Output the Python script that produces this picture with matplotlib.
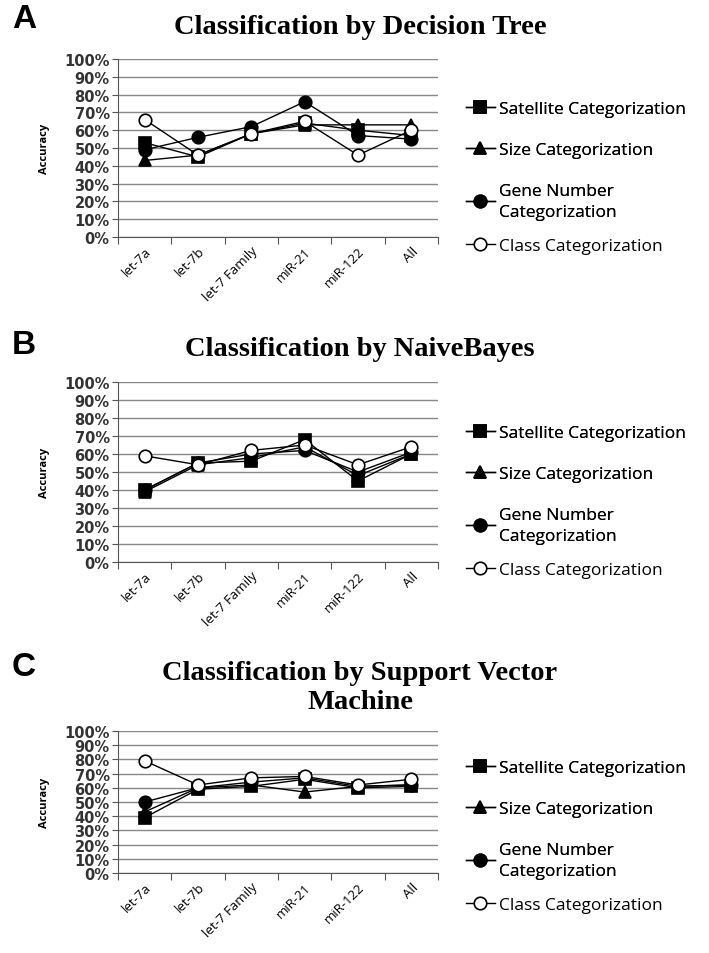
import matplotlib.pyplot as plt
from matplotlib.ticker import PercentFormatter

# categorias e valores (em %)
categorias = ['let-7a', 'let-7b', 'let-7 Family', 'miR-21', 'miR-122', 'All']
series = ['Satellite Categorization', 'Size Categorization',
          'Gene Number\nCategorization', 'Class Categorization']

# A - Decision Tree
dt_satelite = [53, 45, 58, 64, 60, 57]
dt_tamanho = [43, 46, 58, 63, 63, 63]
dt_genes = [49, 56, 62, 76, 57, 55]
dt_classe = [66, 46, 58, 65, 46, 60]

# B - NaiveBayes
nb_satelite = [40, 55, 56, 68, 45, 60]
nb_tamanho = [39, 54, 58, 64, 48, 60]
nb_genes = [40, 55, 60, 62, 50, 61]
nb_classe = [59, 54, 62, 65, 54, 64]

# C - Support Vector Machine
svm_satelite = [39, 59, 61, 66, 60, 61]
svm_tamanho = [43, 60, 62, 57, 61, 62]
svm_genes = [50, 60, 64, 67, 61, 62]
svm_classe = [79, 62, 67, 68, 62, 66]

W, H = 709, 954
fig = plt.figure(figsize=(W / 100, H / 100), dpi=100)

marcadores = [('s', 'black'), ('^', 'black'), ('o', 'black'), ('o', 'white')]

# letra, titulo, dados, topo/base do eixo (px), y da letra, y do titulo, y da legenda
paineis = [
    ('A', 'Classification by Decision Tree', [dt_satelite, dt_tamanho, dt_genes, dt_classe],
     60, 238, 20, 27, 104),
    ('B', 'Classification by NaiveBayes', [nb_satelite, nb_tamanho, nb_genes, nb_classe],
     383, 563, 346, 350, 428),
    ('C', 'Classification by Support Vector\nMachine', [svm_satelite, svm_tamanho, svm_genes, svm_classe],
     732, 874, 667, 688, 763),
]

fonte_leg = {'family': 'Open Sans', 'size': 12.5}

x = list(range(len(categorias)))
for letra, titulo, dados, y_top, y_bot, y_letra, y_titulo, y_leg in paineis:
    ax = fig.add_axes([118 / W, (H - y_bot) / H, 320 / W, (y_bot - y_top) / H])
    handles = []
    for valores, (mk, cor), nome in zip(dados, marcadores, series):
        h, = ax.plot(x, valores, color='black', lw=1, marker=mk, markersize=9,
                     markerfacecolor=cor, markeredgecolor='black', markeredgewidth=1.2,
                     label=nome)
        handles.append(h)
    ax.set_xlim(-0.5, len(categorias) - 0.5)
    ax.set_ylim(0, 100)
    ax.set_yticks(range(0, 101, 10))
    ax.yaxis.set_major_formatter(PercentFormatter(decimals=0))
    ax.grid(axis='y', color='#888888', lw=1)
    ax.set_axisbelow(True)
    for lado in ['top', 'right']:
        ax.spines[lado].set_visible(False)
    ax.spines['left'].set_color('#555555')
    ax.spines['bottom'].set_color('#555555')
    ax.set_xticks([i + 0.5 for i in range(-1, len(categorias))], minor=False)
    ax.set_xticklabels([])
    ax.set_xticks(x, minor=True)
    ax.set_xticklabels(categorias, minor=True, rotation=45, ha='right',
                       rotation_mode='anchor', fontsize=9.5, family='Open Sans')
    ax.tick_params(axis='x', which='minor', length=0, pad=5)
    ax.tick_params(axis='x', which='major', length=5, direction='out', color='#555555')
    ax.tick_params(axis='y', length=4, direction='out', color='#555555', labelsize=10.5, pad=2)
    for t in ax.get_yticklabels():
        t.set_fontweight('bold')
        t.set_color('#333333')
    ax.set_ylabel('Accuracy', fontsize=8, fontweight='bold', family='Open Sans', labelpad=10)

    fig.text(12 / W, 1 - y_letra / H, letra, fontsize=24, fontweight='bold',
             family='Liberation Sans', va='center', ha='left')
    fig.text(360 / W, 1 - y_titulo / H, titulo, fontsize=20.5, fontweight='bold',
             family='Liberation Serif', va='center', ha='center', linespacing=1.2)

    # legenda: tres primeiras entradas juntas, a ultima mais proxima (como no original)
    leg1 = fig.legend(handles=handles[:3], loc='upper left',
                      bbox_to_anchor=(457 / W, 1 - (y_leg - 11) / H),
                      frameon=False, prop=fonte_leg, labelspacing=1.45,
                      handlelength=1.7, handletextpad=0.2, borderpad=0)
    leg1.get_texts()[2].set_linespacing(1.35)
    fig.add_artist(leg1)
    fig.legend(handles=handles[3:], loc='upper left',
               bbox_to_anchor=(457 / W, 1 - (y_leg + 126) / H),
               frameon=False, prop=fonte_leg,
               handlelength=1.7, handletextpad=0.2, borderpad=0)

plt.savefig('out.png', dpi=100)
